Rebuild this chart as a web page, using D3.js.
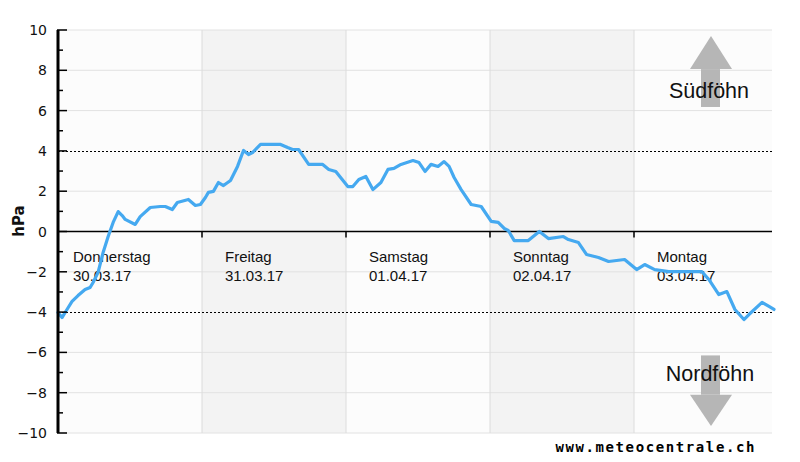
<!DOCTYPE html>
<html>
<head>
<meta charset="utf-8">
<script src="https://cdn.jsdelivr.net/npm/d3@7"></script>
<style>
  html, body { margin: 0; padding: 0; background: #ffffff; }
  svg { display: block; }
</style>
</head>
<body>
<svg id="chart" width="800" height="462"></svg>
<script>
// ---- data ----
const dayNames = ["Donnerstag", "Freitag", "Samstag", "Sonntag", "Montag"];
const dayDates = ["30.03.17", "31.03.17", "01.04.17", "02.04.17", "03.04.17"];
const shadedDays = [false, true, false, true, false];
const yTicks = [10, 8, 6, 4, 2, 0, -2, -4, -6, -8, -10];
const thresholds = [4, -4];
// hours since 30.03.17 00:00
const hours = [0, 0.67, 1.5, 2.34, 3.34, 4.51, 5.35, 5.85, 6.68, 7.52, 8.36, 9.19, 10.03, 10.7, 11.2, 12.87, 13.7, 15.38, 17.05, 17.88, 19.05, 19.89, 21.73, 22.9, 23.73, 24.57, 25.07, 25.9, 26.74, 27.58, 28.75, 29.92, 30.92, 31.76, 32.42, 33.76, 35.43, 37.1, 38.27, 39.1, 40.1, 41.78, 44.12, 45.13, 46.3, 48.3, 49.14, 50.14, 51.31, 52.48, 53.82, 54.99, 55.99, 57.16, 59.16, 60.17, 61.17, 62.17, 63.34, 64.35, 65.18, 66.02, 67.19, 68.86, 70.53, 72.2, 73.37, 74.37, 75.04, 76.04, 78.38, 80.22, 81.73, 84.23, 85.07, 86.74, 88.08, 90.08, 91.76, 94.43, 96.44, 97.78, 99.45, 101.79, 103.97, 107.3, 108.47, 110.14, 111.48, 112.82, 114.32, 115.16, 117.34, 118.5, 119.33];
// pressure difference (hPa)
const pressure = [-4.02, -4.27, -3.87, -3.47, -3.18, -2.88, -2.78, -2.53, -2.03, -1.04, -0.25, 0.45, 0.99, 0.79, 0.6, 0.35, 0.74, 1.19, 1.24, 1.24, 1.09, 1.44, 1.59, 1.29, 1.34, 1.69, 1.94, 1.99, 2.43, 2.28, 2.53, 3.23, 4.02, 3.82, 3.92, 4.32, 4.32, 4.32, 4.17, 4.07, 4.07, 3.33, 3.33, 3.08, 2.98, 2.23, 2.23, 2.58, 2.73, 2.08, 2.43, 3.08, 3.13, 3.33, 3.52, 3.42, 2.98, 3.33, 3.23, 3.47, 3.23, 2.68, 2.08, 1.34, 1.24, 0.5, 0.45, 0.15, 0.05, -0.45, -0.45, 0, -0.35, -0.25, -0.4, -0.55, -1.14, -1.29, -1.49, -1.39, -1.89, -1.64, -1.89, -1.99, -1.99, -1.99, -2.38, -3.13, -2.98, -3.87, -4.37, -4.12, -3.52, -3.72, -3.87];

// ---- layout ----
const svg = d3.select("#chart");
const x = d3.scaleLinear().domain([0, 119]).range([58, 772]);
const y = d3.scaleLinear().domain([-10, 10]).range([433, 30]);
const dayStarts = dayNames.map((d, i) => i * 24);

// day backgrounds
svg.append("g").selectAll("rect").data(dayStarts).join("rect")
  .attr("x", d => x(d))
  .attr("y", y(10))
  .attr("width", d => Math.min(x(d + 24), x(119)) - x(d))
  .attr("height", y(-10) - y(10))
  .attr("fill", (d, i) => shadedDays[i] ? "#f3f3f3" : "#fcfcfc");

// horizontal grid
svg.append("g").selectAll("line").data(yTicks.filter(v => v !== 0 && Math.abs(v) !== 4)).join("line")
  .attr("x1", x(0)).attr("x2", x(119))
  .attr("y1", d => y(d)).attr("y2", d => y(d))
  .attr("stroke", "#e2e2e2").attr("stroke-width", 1);

// vertical grid at day boundaries
svg.append("g").selectAll("line").data(dayStarts.slice(1)).join("line")
  .attr("x1", d => x(d)).attr("x2", d => x(d))
  .attr("y1", y(10)).attr("y2", y(-10))
  .attr("stroke", "#dcdcdc").attr("stroke-width", 1);

// threshold dotted lines
svg.append("g").selectAll("line").data(thresholds).join("line")
  .attr("x1", x(0)).attr("x2", x(119))
  .attr("y1", d => Math.round(y(d)) + 0.5).attr("y2", d => Math.round(y(d)) + 0.5)
  .attr("stroke", "#000").attr("stroke-width", 1).attr("stroke-dasharray", "2,2");

// zero line
svg.append("line")
  .attr("x1", x(0)).attr("x2", x(119))
  .attr("y1", y(0)).attr("y2", y(0))
  .attr("stroke", "#000").attr("stroke-width", 1.5);
// day ticks on zero line
svg.append("g").selectAll("line").data(dayStarts.slice(1)).join("line")
  .attr("x1", d => x(d)).attr("x2", d => x(d))
  .attr("y1", y(0)).attr("y2", y(0) + 6)
  .attr("stroke", "#000").attr("stroke-width", 1.5);

// day labels
const labelX = (d, i) => x(d) + (i === 0 ? 15 : 23);
const dl = svg.append("g").attr("font-family", "'Liberation Sans', Arial, sans-serif")
  .attr("font-size", "15px").attr("fill", "#111");
dl.selectAll("text.n").data(dayStarts).join("text").attr("class", "n")
  .attr("x", labelX).attr("y", 262).text((d, i) => dayNames[i]);
dl.selectAll("text.d").data(dayStarts).join("text").attr("class", "d")
  .attr("x", labelX).attr("y", 281).text((d, i) => dayDates[i]);

// arrows
const arrowColor = "#b6b6b6";
const ax = 711;
svg.append("rect").attr("x", ax - 10).attr("y", y(8.06)).attr("width", 19).attr("height", y(6.18) - y(8.06)).attr("fill", arrowColor);
svg.append("path").attr("d", `M${ax},${y(9.7)} L${ax - 21},${y(8.06)} L${ax + 21},${y(8.06)} Z`).attr("fill", arrowColor);
svg.append("rect").attr("x", ax - 10).attr("y", y(-6.15)).attr("width", 19).attr("height", y(-8.1) - y(-6.15)).attr("fill", arrowColor);
svg.append("path").attr("d", `M${ax},${y(-9.65)} L${ax - 21},${y(-8.1)} L${ax + 21},${y(-8.1)} Z`).attr("fill", arrowColor);

svg.append("text").attr("x", 709).attr("y", 98).attr("text-anchor", "middle")
  .attr("font-family", "'Liberation Sans', Arial, sans-serif").attr("font-size", "21.5px").attr("fill", "#111")
  .text("Südföhn");
svg.append("text").attr("x", 710).attr("y", 381).attr("text-anchor", "middle")
  .attr("font-family", "'Liberation Sans', Arial, sans-serif").attr("font-size", "21.5px").attr("fill", "#111")
  .text("Nordföhn");

// data line
const line = d3.line().x((d, i) => x(hours[i])).y(d => y(d));
svg.append("path").datum(pressure)
  .attr("d", line)
  .attr("fill", "none")
  .attr("stroke", "#45a9f0")
  .attr("stroke-width", 3.2)
  .attr("stroke-linejoin", "round")
  .attr("stroke-linecap", "round");

// y axis
svg.append("line").attr("x1", 58).attr("x2", 58).attr("y1", y(10)).attr("y2", y(-10))
  .attr("stroke", "#000").attr("stroke-width", 3);
const minor = d3.range(-9, 10, 2);
svg.append("g").selectAll("line").data(yTicks).join("line")
  .attr("x1", 57).attr("x2", 67).attr("y1", d => y(d)).attr("y2", d => y(d))
  .attr("stroke", "#000").attr("stroke-width", 1.5);
svg.append("g").selectAll("line").data(minor).join("line")
  .attr("x1", 57).attr("x2", 63).attr("y1", d => y(d)).attr("y2", d => y(d))
  .attr("stroke", "#000").attr("stroke-width", 1.5);
svg.append("g").selectAll("text").data(yTicks).join("text")
  .attr("x", 47).attr("y", d => y(d) + 5)
  .attr("text-anchor", "end")
  .attr("font-family", "'DejaVu Sans', Verdana, sans-serif")
  .attr("font-size", "14px").attr("fill", "#111")
  .text(d => d < 0 ? "\u2212" + Math.abs(d) : String(d));

// y title
svg.append("text").attr("transform", "translate(24,221) rotate(-90)")
  .attr("text-anchor", "middle")
  .attr("font-family", "'DejaVu Sans', Verdana, sans-serif")
  .attr("font-size", "15px").attr("font-weight", "bold").attr("fill", "#111")
  .text("hPa");

// footer
svg.append("text").attr("x", 756).attr("y", 452).attr("text-anchor", "end")
  .attr("font-family", "'DejaVu Sans Mono', 'Liberation Mono', monospace")
  .attr("font-size", "14px").attr("font-weight", "bold").attr("letter-spacing", "1.6px").attr("fill", "#000")
  .text("www.meteocentrale.ch");
</script>
</body>
</html>
